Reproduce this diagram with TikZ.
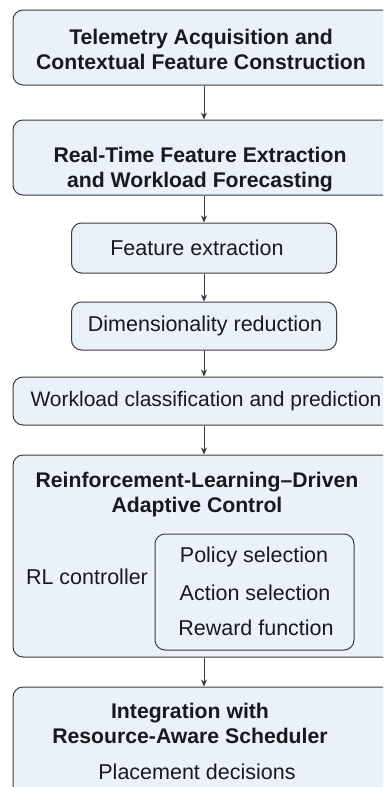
\documentclass[tikz,border=0pt]{standalone}
\usepackage{fontspec}
\setmainfont{Liberation Sans}
\usetikzlibrary{arrows.meta}
\definecolor{boxfill}{RGB}{234,241,250}
\definecolor{linec}{RGB}{60,60,64}
\definecolor{textc}{RGB}{25,25,28}
\begin{document}
\begin{tikzpicture}[x=1pt,y=-1pt,
  box/.style={draw=linec, fill=boxfill, rounded corners=10pt, line width=1pt, inner sep=0pt, align=center, text=textc},
  ttl/.style={font=\fontsize{21.2}{25.5}\selectfont\bfseries, text=textc, align=center, inner sep=0pt},
  reg/.style={font=\fontsize{21.5}{25}\selectfont, text=textc, align=center, inner sep=0pt},
  arr/.style={draw=linec, line width=1pt, -{Stealth[length=7pt,width=6pt]}}]
\useasboundingbox (0,0) rectangle (383,787);
\clip (0,0) rectangle (383,787);
\fill[white] (0,0) rectangle (383,787);

\node[box, minimum width=382pt, minimum height=75pt] (b1) at (204,47.5) {};
\node[ttl] (t1) at (201,49.5) {Telemetry Acquisition and\\Contextual Feature Construction};
\node[box, minimum width=382pt, minimum height=75pt] (b2) at (204,157.5) {};
\node[ttl] (t2) at (200,169.5) {Real-Time Feature Extraction\\and Workload Forecasting};
\node[box, minimum width=265pt, minimum height=50pt] (b3) at (204,248) {};
\node[reg] (t3) at (197,248) {Feature extraction};
\node[box, minimum width=265pt, minimum height=48pt] (b4) at (204,326) {};
\node[reg] (t4) at (205,326) {Dimensionality reduction};
\node[box, minimum width=382pt, minimum height=48pt] (b5) at (204,401) {};
\node[reg, font=\fontsize{21}{25}\selectfont] (t5) at (206,401) {Workload classification and prediction};

\node[box, minimum width=382pt, minimum height=202pt] (b6) at (204,556) {};
\node[ttl] (t6) at (197,494.5) {Reinforcement-Learning--Driven\\Adaptive Control};
\node[reg] (rl) at (87,577) {RL controller};
\node[box, minimum width=199pt, minimum height=116pt] (in) at (254.5,592) {};
\node[reg] (p1) at (254,557) {Policy selection};
\node[reg] (p2) at (255,593) {Action selection};
\node[reg] (p3) at (256,628) {Reward function};

\node[box, minimum width=382pt, minimum height=118pt] (b7) at (204,746) {};
\node[ttl] (t7) at (190,723.5) {Integration with\\Resource-Aware Scheduler};
\node[reg] (pd) at (197,772) {Placement decisions};

\draw[arr] (b1) -- (b2);
\draw[arr] (b2) -- (b3);
\draw[arr] (b3) -- (b4);
\draw[arr] (b4) -- (b5);
\draw[arr] (b5) -- (b6);
\draw[arr] (b6) -- (b7);
\end{tikzpicture}
\end{document}
